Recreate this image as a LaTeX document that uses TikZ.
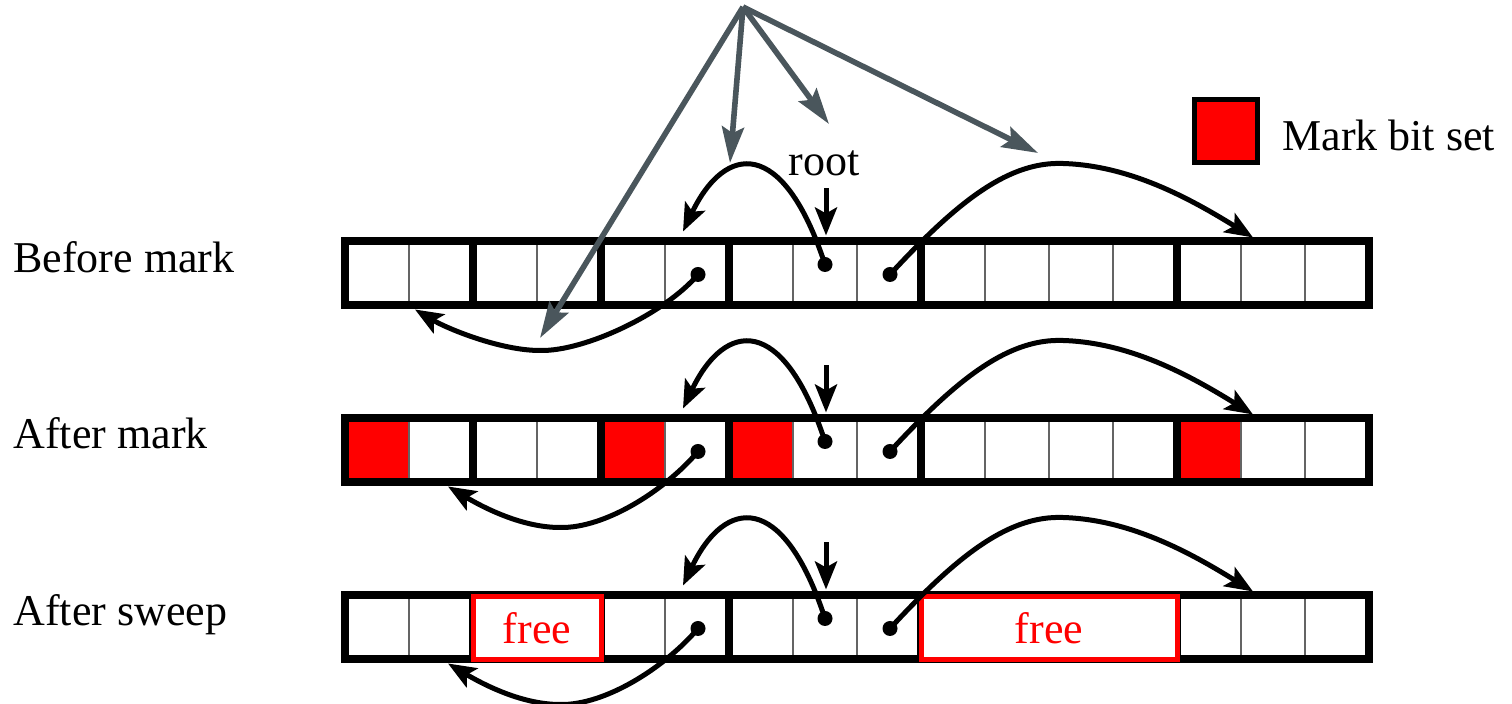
\documentclass[tikz,border=0pt]{standalone}
\usepackage{fontspec}
\setmainfont{Liberation Serif}
\newfontfamily\figserif{Liberation Serif}
\usetikzlibrary{arrows.meta}
\definecolor{arrowgray}{RGB}{74,86,92}
\definecolor{thingray}{RGB}{100,100,100}
\definecolor{markred}{RGB}{255,0,0}
\begin{document}
\begin{tikzpicture}[x=0.5pt,y=-0.5pt,
  lbl/.style={font=\figserif\fontsize{22}{26}\selectfont, inner sep=0pt},
  outerbox/.style={line width=4pt, draw=black},
  thickdiv/.style={line width=3.7pt, draw=black},
  thindiv/.style={line width=1.2pt, draw=thingray},
  ptr/.style={line width=2.5pt, draw=black, -{Stealth[length=14pt,width=11pt,inset=3pt]}},
  graya/.style={draw=arrowgray, line width=2.8pt, -{Stealth[length=18pt,width=11pt,inset=3pt]}},
  dotc/.style={circle, fill=black, inner sep=0pt, minimum size=7.5pt},
  freebox/.style={draw=markred, fill=white, line width=2.5pt, inner sep=0pt, text=markred},
  ]
\useasboundingbox (0,0) rectangle (1512,704);

% row labels
\node[lbl, anchor=base west] (lab1) at (13,273) {Before mark};
\node[lbl, anchor=base west] (lab2) at (13,449) {After mark};
\node[lbl, anchor=base west] (lab3) at (13,626) {After sweep};

% legend
\node[draw=black, fill=markred, line width=2.5pt, minimum width=31.5pt, minimum height=31.5pt, inner sep=0pt] (legend) at (1226,131) {};
\node[lbl, anchor=base west] (legendtxt) at (1282,151) {Mark bit set};

% root label
\node[lbl, anchor=base] (root) at (824,176) {root};

\foreach \c/\k/\bx/\tx in {273.5/1/540/415, 450.5/2/560/448, 627.5/3/560/448}{
  % red marked cells (row 2 only)
  \ifnum\k=2
    \foreach \i in {0,4,6,13}{
      \fill[markred] (345+64*\i,\c-32) rectangle (409+64*\i,\c+32);
    }
  \fi
  % thin cell dividers
  \foreach \i in {1,3,5,7,8,10,11,12,14,15}{
    \draw[thindiv] (345+64*\i,\c-32) -- (345+64*\i,\c+32);
  }
  % object boundaries
  \foreach \i in {2,4,6,9,13}{
    \draw[thickdiv] (345+64*\i,\c-32) -- (345+64*\i,\c+32);
  }
  % outer box
  \draw[outerbox] (345,\c-32) rectangle (1369,\c+32);
  % free blocks (row 3 only)
  \ifnum\k=3
    \node[freebox, lbl, minimum width=64pt, minimum height=31.5pt] (free1) at (537,\c+0.5) {free};
    \node[freebox, lbl, minimum width=128pt, minimum height=31.5pt] (free2) at (1049,\c+0.5) {free};
  \fi
  % pointer sources
  \node[dotc] (dA\k) at (825,\c-9) {};
  \node[dotc] (dB\k) at (890,\c+1) {};
  \node[dotc] (dC\k) at (698,\c+1) {};
  % pointer targets
  \coordinate (tA\k) at (683,\c-42);
  \coordinate (tB\k) at (1253,\c-36);
  \coordinate (tC\k) at (\tx,\c+36);
  \coordinate (rs\k) at (826,\c-85);
  \coordinate (rt\k) at (826,\c-38);
  % pointers
  \draw[ptr] (dA\k.center) .. controls (783,\c-137) and (725,\c-130) .. (tA\k);
  \draw[ptr] (dB\k.center) .. controls (960,\c-75) and (1010,\c-112) .. (1063,\c-110)
                           .. controls (1130,\c-108) and (1190,\c-75) .. (tB\k);
  \draw[ptr] (dC\k.center) .. controls (665,\c+40) and (\bx+45,\c+78) .. (\bx,\c+77)
                           .. controls (\bx-40,\c+77) and (\tx+32,\c+55) .. (tC\k);
  \draw[ptr] (rs\k) -- (rt\k);
}

% gray arrows from the top
\coordinate (apex) at (743,7);
\coordinate (g1) at (540,338);
\coordinate (g2) at (730,163);
\coordinate (g3) at (829,124);
\coordinate (g4) at (1038,153);
\draw[graya] (apex) -- (g1);
\draw[graya] (apex) -- (g2);
\draw[graya] (apex) -- (g3);
\draw[graya] (apex) -- (g4);
\end{tikzpicture}
\end{document}
